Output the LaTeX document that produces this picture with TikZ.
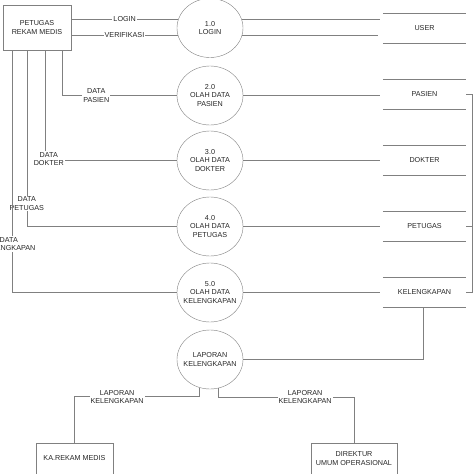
\documentclass[tikz,border=0pt]{standalone}
\usepackage{fontspec}
\setmainfont{Liberation Sans}
\usetikzlibrary{shapes.geometric}
\usetikzlibrary{calc}

\tikzset{
    lbl/.style={font=\fontsize{7.2}{8.4}\selectfont, text=black!85, align=center},
    proses/.style={ellipse, draw=black!50, minimum width=66pt, minimum height=59pt,
        inner xsep=-6pt, inner ysep=0pt, lbl},
    entitas/.style={rectangle, draw=black!50, lbl},
    simpan/.style={rectangle, minimum width=83pt, minimum height=30pt, lbl},
    alir/.style={draw=black!50, line width=0.6pt},
    ket/.style={lbl, fill=white, inner sep=1pt}
}

\begin{document}
\begin{tikzpicture}[x=1pt, y=-1pt]
        \useasboundingbox (0,0) rectangle (474,474);

        % entitas luar
        \node[entitas, minimum width=68pt, minimum height=45pt] (petugas) at (37,27.5) {PETUGAS\\REKAM MEDIS};
        \node[entitas, minimum width=77pt, minimum height=31pt] (karekam) at (74.5,458.5) {KA.REKAM MEDIS};
        \node[entitas, minimum width=86pt, minimum height=31pt] (direktur) at (354,458.5) {DIREKTUR\\UMUM OPERASIONAL};

        % proses
        \node[proses] (login) at (210,28) {1.0\\LOGIN};
        \node[proses] (olahpasien) at (210,95.5) {2.0\\OLAH DATA\\PASIEN};
        \node[proses] (olahdokter) at (210,160.5) {3.0\\OLAH DATA\\DOKTER};
        \node[proses] (olahpetugas) at (210,226.5) {4.0\\OLAH DATA\\PETUGAS};
        \node[proses] (olahkelengkapan) at (210,292.5) {5.0\\OLAH DATA\\KELENGKAPAN};
        \node[proses] (laporan) at (210,359.5) {LAPORAN\\KELENGKAPAN};

        % data store
        \node[simpan] (suser) at (424.5,28) {USER};
        \node[simpan] (spasien) at (424.5,94.5) {PASIEN};
        \node[simpan] (sdokter) at (424.5,160.5) {DOKTER};
        \node[simpan] (spetugas) at (424.5,226.5) {PETUGAS};
        \node[simpan] (skelengkapan) at (424.5,292.5) {KELENGKAPAN};
        \foreach \s in {suser,spasien,sdokter,spetugas,skelengkapan}
            \draw[alir] (\s.north west) -- (\s.north east) (\s.south west) -- (\s.south east);

        % alir data petugas - login
        \draw[alir] (petugas.east |- login.165) -- node[ket] {LOGIN} (login.165);
        \draw[alir] (petugas.east |- login.192) -- node[ket] {VERIFIKASI} (login.192);
        \draw[alir, shorten >=3pt] (login.15) -- (login.15 -| suser.west);
        \draw[alir, shorten >=5pt] (login.348) -- (login.348 -| suser.west);

        % alir data petugas - olah data
        \coordinate (p1) at ($(petugas.south west)+(9,0)$);
        \coordinate (p2) at ($(petugas.south west)+(24,0)$);
        \coordinate (p3) at ($(petugas.south west)+(42,0)$);
        \coordinate (p4) at ($(petugas.south west)+(59,0)$);
        \draw[alir] (p4) |- node[ket, pos=0.65] {DATA\\PASIEN} (olahpasien.west);
        \draw[alir] (p3) |- node[ket, pos=0.5, xshift=4pt, yshift=1.5pt] {DATA\\DOKTER} (olahdokter.west);
        \draw[alir] (p2) |- node[ket, pos=0.435] {DATA\\PETUGAS} (olahpetugas.west);
        \draw[alir] (p1) |- node[ket, pos=0.4, xshift=-3pt] {DATA\\KELENGKAPAN} (olahkelengkapan.west);

        % alir data olah data - store
        \foreach \p/\s in {olahpasien/spasien, olahdokter/sdokter, olahpetugas/spetugas, olahkelengkapan/skelengkapan}
            \draw[alir, shorten >=3pt] (\p.east) -- (\p.east -| \s.west);
        \draw[alir] (spasien.east) -- ++(6,0) |- (skelengkapan.east);
        \draw[alir] (spetugas.east) -- ++(6,0);

        % laporan
        \draw[alir] ($(skelengkapan.south)+(-1.5,0)$) |- (laporan.east);
        \draw[alir] (laporan.250) -- ++(0,9) -| node[ket, pos=0.33] {LAPORAN\\KELENGKAPAN} (karekam.north);
        \draw[alir] (laporan.286) -- ++(0,9) -| node[ket, pos=0.32] {LAPORAN\\KELENGKAPAN} (direktur.north);
\end{tikzpicture}
\end{document}
